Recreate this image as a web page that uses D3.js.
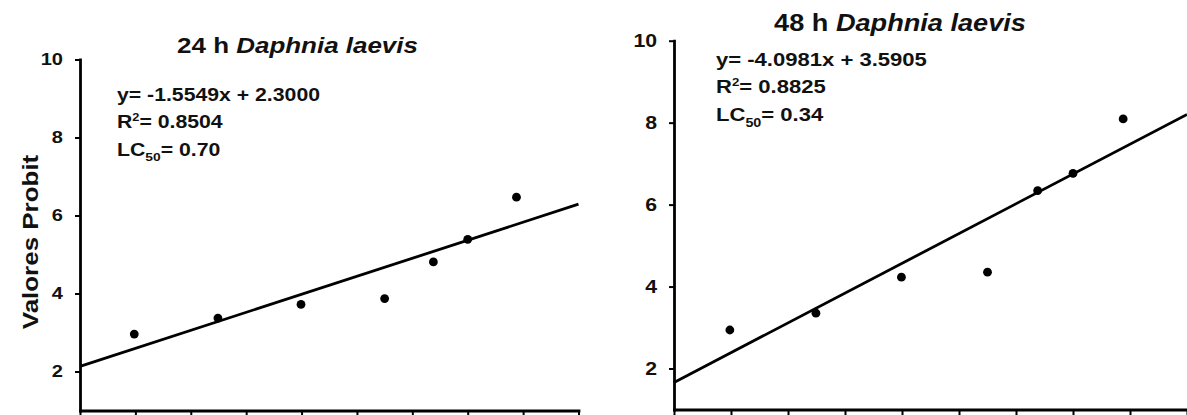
<!DOCTYPE html>
<html>
<head>
<meta charset="utf-8">
<script src="https://cdn.jsdelivr.net/npm/d3@7"></script>
<style>
  body { margin: 0; background: #fff; }
  svg { display: block; font-family: "Liberation Sans", Arial, sans-serif; font-weight: bold; }
</style>
</head>
<body>
<div class="main"></div>
<script>
// data
const xTickVals = [0, 1, 2, 3, 4, 5, 6, 7, 8, 9];
const yTickVals = [2, 4, 6, 8, 10];
const doseX = [0.98, 2.49, 3.99, 5.5, 6.38, 7.0, 7.88];
const probit24 = [2.96, 3.37, 3.72, 3.87, 4.81, 5.39, 6.47];
const probit48 = [2.94, 3.35, 4.23, 4.35, 6.34, 6.76, 8.09];
const fitEnds24 = [2.13, 6.29];   // fitted line at x = 0 and x = 9
const fitEnds48 = [1.66, 8.2];
const eq24 = ["y= -1.5549x + 2.3000", "0.8504", "0.70"];
const eq48 = ["y= -4.0981x + 3.5905", "0.8825", "0.34"];

const width = 1187;
const height = 415;
const sx = 1.18; // the font in the picture is wider than Arial

let svg = d3.select('.main').append("svg")
    .attr("width", width)
    .attr("height", height);

function drawPanel(cfg) {
    let x = d3.scaleLinear().domain([0, 9]).range(cfg.xr);
    let y = d3.scaleLinear().domain([1, 10]).range(cfg.yr);
    let g = svg.append("g");

    // y axis
    let yAxis = g.append("g")
        .attr("transform", `translate(${cfg.xr[0]},0)`)
        .call(d3.axisLeft(y).tickValues(yTickVals).tickSize(5).tickSizeOuter(0))
        .attr("font-family", null)
        .attr("font-size", null);
    yAxis.selectAll("text")
        .attr("x", -17 / sx)
        .attr("transform", `scale(${sx},1)`)
        .attr("fill", "#111")
        .style("font-size", cfg.tickFont + "px");

    // x axis, tick labels fall below the picture
    g.append("g")
        .attr("transform", `translate(0,${cfg.yr[0]})`)
        .call(d3.axisBottom(x).tickValues(xTickVals).tickSize(9).tickSizeOuter(0).tickFormat(""));

    g.selectAll(".domain").attr("stroke", "#000").attr("stroke-width", 2.8).attr("stroke-linecap", "square");
    g.selectAll(".tick line").attr("stroke", "#000").attr("stroke-width", 2);

    // fitted line
    g.append("line")
        .attr("x1", x(0)).attr("y1", y(cfg.fit[0]))
        .attr("x2", x(9)).attr("y2", y(cfg.fit[1]))
        .attr("stroke", "#000")
        .attr("stroke-width", 2.8);

    // points
    g.selectAll(".pt")
        .data(cfg.vals)
        .enter().append("circle")
        .attr("class", "pt")
        .attr("cx", (d, i) => x(doseX[i]))
        .attr("cy", d => y(d))
        .attr("r", 4.4)
        .attr("fill", "#000");

    // title
    let t = g.append("text")
        .attr("transform", `translate(${cfg.titlePos[0]},${cfg.titlePos[1]}) scale(${sx},1)`)
        .attr("text-anchor", "middle")
        .style("font-size", cfg.titleFont + "px")
        .attr("fill", "#111");
    t.append("tspan").text(cfg.title);
    t.append("tspan").style("font-style", "italic").text("Daphnia laevis");

    // equation block
    let f = cfg.eqFont;
    let eq = g.append("g")
        .attr("transform", `translate(${cfg.eqPos[0]},${cfg.eqPos[1]}) scale(${sx},1)`)
        .style("font-size", f + "px")
        .attr("fill", "#111");
    eq.append("text").text(cfg.eq[0]);

    let r2 = eq.append("text").attr("y", cfg.eqStep);
    r2.append("tspan").text("R");
    r2.append("tspan").attr("dy", -f * 0.42).style("font-size", (f * 0.6) + "px").text("2");
    r2.append("tspan").attr("dy", f * 0.42).text("= " + cfg.eq[1]);

    let lc = eq.append("text").attr("y", cfg.eqStep * 2);
    lc.append("tspan").text("LC");
    lc.append("tspan").attr("dy", f * 0.3).style("font-size", (f * 0.65) + "px").text("50");
    lc.append("tspan").attr("dy", -f * 0.3).text("= " + cfg.eq[2]);
}

drawPanel({
    xr: [80, 578.5], yr: [410.5, 59.5],
    vals: probit24, fit: fitEnds24, eq: eq24,
    title: "24 h ", titlePos: [297.5, 53], titleFont: 22,
    eqPos: [117, 101], eqStep: 27.5, eqFont: 18, tickFont: 17
});

drawPanel({
    xr: [674, 1187], yr: [409.5, 40.7],
    vals: probit48, fit: fitEnds48, eq: eq48,
    title: "48 h ", titlePos: [900, 31], titleFont: 23,
    eqPos: [716, 66], eqStep: 27.5, eqFont: 18.7, tickFont: 18
});

// y axis title of the left panel
svg.append("text")
    .attr("transform", `translate(38,242) rotate(-90) scale(${sx},1)`)
    .attr("text-anchor", "middle")
    .style("font-size", "22px")
    .attr("fill", "#111")
    .text("Valores Probit");
</script>
</body>
</html>
